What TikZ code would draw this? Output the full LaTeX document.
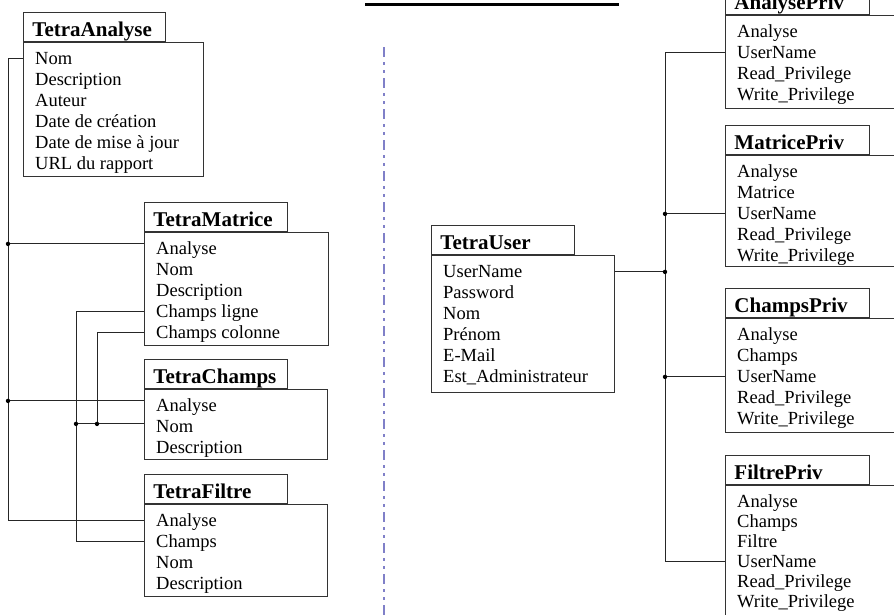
\documentclass[tikz,border=0pt]{standalone}
\usepackage{fontspec}
\setmainfont{Liberation Serif}
\usetikzlibrary{calc}
\def\fldsep{21}
\newcommand\dbtable[8]{%
  \node[hdr, text width=#4pt] (#1-h) at (#2,#3) {#7};
  \node[bodybox, minimum width=#5pt, minimum height=#6pt] (#1-b) at (#1-h.south west) {};
  \foreach \f [count=\i] in {#8} {%
    \pgfmathsetmacro\dy{-17-\fldsep*(\i-1)}
    \node[fld] (#1-f\i) at ([xshift=12pt, yshift=\dy pt]#1-b.north west) {\f};
  }%
}
\begin{document}
\begin{tikzpicture}[x=1pt,y=-1pt,
  hdr/.style={draw=black!80, line width=0.9pt, anchor=north west, inner xsep=9pt, inner ysep=0pt,
    minimum height=29pt, align=left, text height=20pt, text depth=0pt,
    font=\fontsize{21}{24}\selectfont\bfseries},
  bodybox/.style={draw=black!80, line width=0.9pt, anchor=north west, inner sep=0pt},
  fld/.style={anchor=west, inner sep=0pt, text height=13pt, text depth=2pt,
    font=\fontsize{18.5}{21}\selectfont},
  conn/.style={draw=black!85, line width=0.9pt},
  jdot/.style={fill=black, draw=none},
  divider/.style={draw={rgb,255:red,128;green,128;blue,200}, line width=2pt,
    dash pattern=on 10pt off 5pt on 3pt off 5pt on 3pt off 5pt},
]
\useasboundingbox (0,0) rectangle (894,614);
\clip (0,0) rectangle (894,614);
\fill[white] (0,0) rectangle (894,614);

% top bar and divider
\coordinate (bar-l) at (365,4);
\coordinate (bar-r) at (619,4);
\draw[line width=3pt] (bar-l) -- (bar-r);
\coordinate (dv-top) at (384,47);
\coordinate (dv-bot) at (384,616);
\draw[divider] (dv-top) -- (dv-bot);

% left tables
\dbtable{ta}{23}{12}{124}{180}{134}{TetraAnalyse}{Nom,Description,Auteur,Date de création,Date de mise à jour,URL du rapport}
\dbtable{tm}{144}{202}{125}{184}{113}{TetraMatrice}{Analyse,Nom,Description,Champs ligne,Champs colonne}
\dbtable{tc}{144}{359}{125}{183}{70}{TetraChamps}{Analyse,Nom,Description}
\dbtable{tf}{144}{474}{125}{183}{92}{TetraFiltre}{Analyse,Champs,Nom,Description}

% user
\dbtable{tu}{431}{225}{125}{183}{137}{TetraUser}{UserName,Password,Nom,Prénom,E-Mail,Est\_Administrateur}

% right tables
\dbtable{ap}{725}{-15}{126}{200}{93}{AnalysePriv}{Analyse,UserName,Read\_Privilege,Write\_Privilege}
\dbtable{mp}{725}{125}{126}{200}{111}{MatricePriv}{Analyse,Matrice,UserName,Read\_Privilege,Write\_Privilege}
\dbtable{cp}{725}{288}{126}{200}{114}{ChampsPriv}{Analyse,Champs,UserName,Read\_Privilege,Write\_Privilege}
\def\fldsep{20}
\dbtable{fp}{725}{455}{126}{200}{140}{FiltrePriv}{Analyse,Champs,Filtre,UserName,Read\_Privilege,Write\_Privilege}

% left connectors
\coordinate (busL) at (8,0);
\coordinate (bus2) at (76,0);
\coordinate (bus3) at (97,0);
\coordinate (tmA) at ([yshift=5pt]tm-b.west |- tm-f1);
\coordinate (tcA) at ([yshift=5pt]tc-b.west |- tc-f1);
\coordinate (tcN) at ([yshift=3pt]tc-b.west |- tc-f2);
\draw[conn] (ta-b.west |- ta-f1) -- (busL |- ta-f1) -- (busL |- tf-f1) -- (tf-b.west |- tf-f1);
\draw[conn] (tmA) -- (busL |- tmA);
\draw[conn] (tcA) -- (busL |- tcA);
\draw[conn] (tm-b.west |- tm-f4) -- (bus2 |- tm-f4) -- (bus2 |- tf-f2) -- (tf-b.west |- tf-f2);
\draw[conn] (tm-b.west |- tm-f5) -- (bus3 |- tm-f5) -- (bus3 |- tcN);
\draw[conn] (tcN) -- (bus2 |- tcN);
\fill[jdot] (busL |- tmA) circle (2.2);
\fill[jdot] (busL |- tcA) circle (2.2);
\fill[jdot] (bus2 |- tcN) circle (2.2);
\fill[jdot] (bus3 |- tcN) circle (2.2);

% right connectors
\coordinate (busR) at (665,0);
\draw[conn] (ap-b.west |- ap-f2) -- (busR |- ap-f2) -- (busR |- fp-f4) -- (fp-b.west |- fp-f4);
\draw[conn] (mp-b.west |- mp-f3) -- (busR |- mp-f3);
\draw[conn] (tu-b.east |- tu-f1) -- (busR |- tu-f1);
\draw[conn] (cp-b.west |- cp-f3) -- (busR |- cp-f3);
\fill[jdot] (busR |- mp-f3) circle (2.2);
\fill[jdot] (busR |- tu-f1) circle (2.2);
\fill[jdot] (busR |- cp-f3) circle (2.2);
\end{tikzpicture}
\end{document}
